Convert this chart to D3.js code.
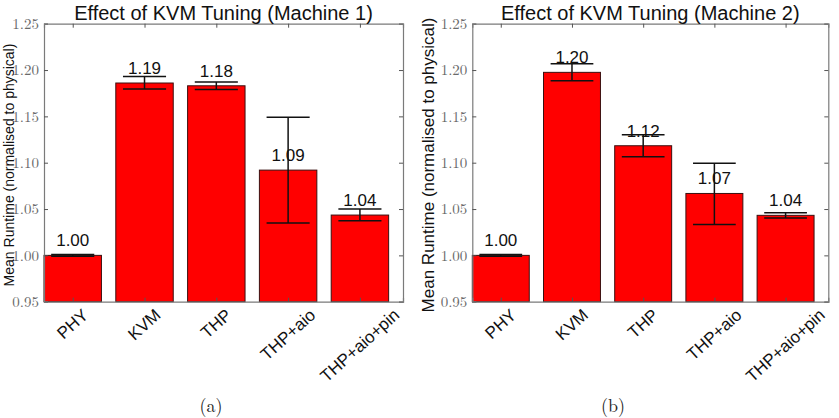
<!DOCTYPE html>
<html>
<head>
<meta charset="utf-8">
<script src="https://cdn.jsdelivr.net/npm/d3@7"></script>
<style>
  body { margin: 0; background: #fff; }
  svg { display: block; }
</style>
</head>
<body>
<svg id="chart" width="839" height="418"></svg>
<script>
// ---------- data ----------
const categories = ["PHY", "KVM", "THP", "THP+aio", "THP+aio+pin"];
const yTicks = [0.95, 1.00, 1.05, 1.10, 1.15, 1.20, 1.25];

const m1Means = [1.000, 1.186, 1.183, 1.092, 1.0435];
const m1Upper = [1.001, 1.193, 1.187, 1.149, 1.050];
const m1Lower = [0.999, 1.1795, 1.179, 1.035, 1.0374];
const m1Labels = ["1.00", "1.19", "1.18", "1.09", "1.04"];

const m2Means = [1.000, 1.1975, 1.1183, 1.0668, 1.0432];
const m2Upper = [1.001, 1.2068, 1.1302, 1.0995, 1.046];
const m2Lower = [0.999, 1.1885, 1.1065, 1.0333, 1.0403];
const m2Labels = ["1.00", "1.20", "1.12", "1.07", "1.04"];

const titles = ["Effect of KVM Tuning (Machine 1)", "Effect of KVM Tuning (Machine 2)"];
const captions = ["(a)", "(b)"];
const yLabel = "Mean Runtime (normalised to physical)";

// ---------- drawing ----------
const svg = d3.select("#chart");
const sansFont = "Liberation Sans, Arial, sans-serif";
const serifFont = "CMU Serif, Latin Modern Roman, Liberation Serif, serif";

function panel(opts) {
  const { x0, x1, means, upper, lower, labels, title, caption, ylabX, ylabSize, capX } = opts;
  const yTop = 23.7, yBot = 301.7;
  const g = svg.append("g");

  const x = d3.scaleLinear().domain([0.6, 5.6]).range([x0, x1]);
  const y = d3.scaleLinear().domain([0.95, 1.25]).range([yBot, yTop]);
  const bw = 0.8, capW = 0.6;
  const idx = d3.range(categories.length);

  // bars
  g.selectAll("rect.bar").data(idx).join("rect")
    .attr("x", i => x(i + 1 - bw / 2))
    .attr("width", i => x(i + 1 + bw / 2) - x(i + 1 - bw / 2))
    .attr("y", i => y(means[i]))
    .attr("height", i => y(0.95) - y(means[i]))
    .attr("fill", "#ff0000")
    .attr("stroke", "#3a1010")
    .attr("stroke-width", 1);

  // axes (grey frame with inward ticks)
  const axisColor = "#7a7a7a";
  const yLeft = d3.axisLeft(y).tickValues(yTicks).tickSize(-4).tickFormat(d3.format(".2f")).tickPadding(5);
  const yRight = d3.axisRight(y).tickValues(yTicks).tickSize(-4).tickFormat("");
  const xBottom = d3.axisBottom(x).tickValues(idx.map(i => i + 1)).tickSize(-4).tickFormat("");
  const xTop = d3.axisTop(x).tickValues(idx.map(i => i + 1)).tickSize(-4).tickFormat("");

  const gl = g.append("g").attr("transform", `translate(${x0},0)`).call(yLeft);
  const gr = g.append("g").attr("transform", `translate(${x1},0)`).call(yRight);
  const gb = g.append("g").attr("transform", `translate(0,${yBot})`).call(xBottom);
  const gt = g.append("g").attr("transform", `translate(0,${yTop})`).call(xTop);
  [gl, gr, gb, gt].forEach(a => {
    a.select(".domain").attr("stroke", axisColor).attr("stroke-width", 1.2);
    a.selectAll(".tick line").attr("stroke", "#555");
  });
  gl.selectAll(".tick text")
    .attr("font-family", serifFont).attr("font-size", 15).attr("fill", "#6a6a6a");

  // error bars
  const eb = g.append("g").attr("stroke", "#111").attr("stroke-width", 1.5);
  eb.selectAll("line.v").data(idx).join("line")
    .attr("x1", i => x(i + 1)).attr("x2", i => x(i + 1))
    .attr("y1", i => y(upper[i])).attr("y2", i => y(lower[i]));
  eb.selectAll("line.u").data(idx).join("line")
    .attr("x1", i => x(i + 1 - capW / 2)).attr("x2", i => x(i + 1 + capW / 2))
    .attr("y1", i => y(upper[i])).attr("y2", i => y(upper[i]));
  eb.selectAll("line.l").data(idx).join("line")
    .attr("x1", i => x(i + 1 - capW / 2)).attr("x2", i => x(i + 1 + capW / 2))
    .attr("y1", i => y(lower[i])).attr("y2", i => y(lower[i]));

  // value labels
  g.selectAll("text.val").data(idx).join("text")
    .attr("x", i => x(i + 1))
    .attr("y", i => y(means[i]) - 9)
    .attr("text-anchor", "middle")
    .attr("font-family", sansFont).attr("font-size", 17).attr("fill", "#111")
    .text(i => labels[i]);

  // x category labels, rotated, centered under the tick
  const ang = 42, rad = ang * Math.PI / 180;
  idx.forEach(i => {
    const t = g.append("text")
      .attr("font-family", sansFont).attr("font-size", 17).attr("fill", "#111")
      .attr("text-anchor", "middle").attr("dominant-baseline", "central")
      .text(categories[i]);
    const L = t.node().getComputedTextLength();
    const h = 12;
    const rh = L * Math.sin(rad) + h * Math.cos(rad);
    const cx = x(i + 1), cy = 308 + rh / 2;
    t.attr("transform", `translate(${cx},${cy}) rotate(${-ang})`);
  });

  // title
  g.append("text")
    .attr("x", (x0 + x1) / 2).attr("y", 20)
    .attr("text-anchor", "middle")
    .attr("font-family", sansFont).attr("font-size", 20).attr("fill", "#111")
    .text(title);

  // y label (positioned by its baseline)
  g.append("text")
    .attr("transform", `translate(${ylabX},165) rotate(-90)`)
    .attr("text-anchor", "middle")
    .attr("font-family", sansFont).attr("font-size", ylabSize).attr("fill", "#111")
    .text(yLabel);

  // caption
  svg.append("text")
    .attr("x", capX).attr("y", 412)
    .attr("text-anchor", "middle")
    .attr("font-family", serifFont).attr("font-size", 18).attr("fill", "#222")
    .text(caption);
}

panel({ x0: 44, x1: 403, means: m1Means, upper: m1Upper, lower: m1Lower, labels: m1Labels,
        title: titles[0], caption: captions[0], ylabX: 14, ylabSize: 14, capX: 211 });
panel({ x0: 472.3, x1: 828.3, means: m2Means, upper: m2Upper, lower: m2Lower, labels: m2Labels,
        title: titles[1], caption: captions[1], ylabX: 434, ylabSize: 17, capX: 613 });
</script>
</body>
</html>
